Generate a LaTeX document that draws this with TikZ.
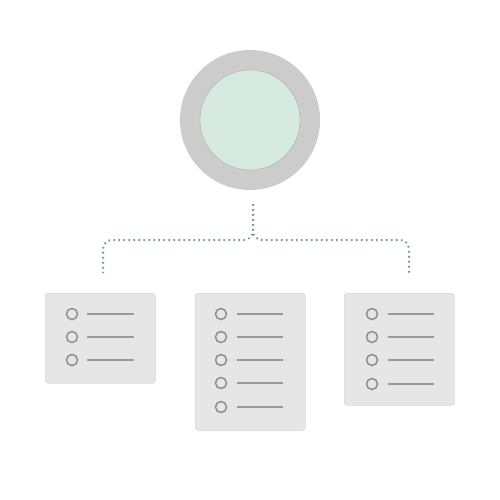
\documentclass[tikz,border=0pt]{standalone}
\usetikzlibrary{calc}
\definecolor{ringgray}{HTML}{CCCCCC}
\definecolor{hubfill}{HTML}{D6EADF}
\definecolor{boxfill}{HTML}{E6E6E6}
\definecolor{boxedge}{HTML}{D6D6D6}
\definecolor{itemgray}{HTML}{8F8F8F}
\definecolor{dotline}{HTML}{6E9C8E}
\tikzset{
  ring/.style={circle, fill=ringgray, minimum size=140pt, inner sep=0pt},
  hub/.style={circle, fill=hubfill, draw=ringgray!80!black, line width=0.3pt, minimum size=100pt, inner sep=0pt},
  card/.style={rectangle, rounded corners=3pt, fill=boxfill, draw=boxedge, line width=0.6pt, minimum width=110pt, inner sep=0pt},
  bullet/.style={circle, draw=itemgray, line width=1.5pt, minimum size=11pt, inner sep=0pt},
  itemline/.style={draw=itemgray!90, line width=1.8pt},
  link/.style={draw=dotline, line width=2pt, dash pattern=on 1.6pt off 3.4pt, rounded corners=9pt}
}
\begin{document}
\begin{tikzpicture}[x=1pt, y=-1pt]
\useasboundingbox (0,0) rectangle (500,500);
\node[ring] (ringnode) at (250,120) {};
\node[hub] (hubnode) at (250,120) {};
% cards
\node[card, minimum height=90pt, anchor=north west] (cardA) at (45,293) {};
\node[card, minimum height=137pt, anchor=north west] (cardB) at (195,293) {};
\node[card, minimum height=112pt, anchor=north west] (cardC) at (344,293) {};
% items
\foreach \y [count=\i] in {314,337,360} {
  \node[bullet] (a\i) at (72,\y) {};
  \coordinate (ae\i) at (134,\y);
  \draw[itemline] ($(a\i.east)+(9,0)$) -- (ae\i);
}
\foreach \y [count=\i] in {314,337,360,383,407} {
  \node[bullet] (b\i) at (221,\y) {};
  \coordinate (be\i) at (283,\y);
  \draw[itemline] ($(b\i.east)+(10,0)$) -- (be\i);
}
\foreach \y [count=\i] in {314,337,360,384} {
  \node[bullet] (c\i) at (372,\y) {};
  \coordinate (ce\i) at (434,\y);
  \draw[itemline] ($(c\i.east)+(10,0)$) -- (ce\i);
}
% connector
\coordinate (top) at (253,204);
\coordinate (leftend) at (103,273);
\coordinate (rightend) at (409,275);
\draw[link] (top) -- (top |- 0,240) -- (leftend |- 0,240) -- (leftend);
\draw[link] (top) -- (top |- 0,240) -- (rightend |- 0,240) -- (rightend);
\end{tikzpicture}
\end{document}
